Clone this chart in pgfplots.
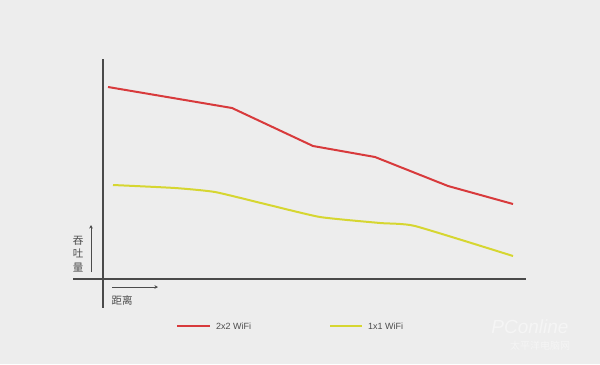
\documentclass[border=0pt]{standalone}
\usepackage{pgfplots}
\pgfplotsset{compat=1.18}
\usepackage{fontspec}
\setmainfont{Liberation Sans}
\newfontfamily\cjk{Noto Sans CJK SC}
\usetikzlibrary{arrows.meta}
\definecolor{bg}{HTML}{EDEDED}
\definecolor{redline}{HTML}{D83A3C}
\definecolor{yelline}{HTML}{D6D631}
\definecolor{axisc}{HTML}{4A4A4A}
\definecolor{txt}{HTML}{4C4C4C}
\begin{document}
\begin{tikzpicture}
\begin{axis}[
  scale only axis, width=600bp, height=364bp,
  xmin=0, xmax=600, ymin=0, ymax=364, y dir=reverse,
  hide axis, clip=false,
]
\fill[bg] (axis cs:0,0) rectangle (axis cs:600,364);
% axes
\draw[axisc, line width=1.4bp] (axis cs:103,59) -- (axis cs:103,308);
\draw[axisc, line width=1.4bp] (axis cs:73,279) -- (axis cs:526,279);
% axis arrows
\draw[txt, line width=0.9bp, -{Stealth[length=3.5bp,width=3.5bp]}] (axis cs:91,272) -- (axis cs:91,225);
\draw[txt, line width=0.9bp, -{Stealth[length=3.5bp,width=3.5bp]}] (axis cs:112,287) -- (axis cs:158,287);
\node[txt, font=\cjk\fontsize{10.5bp}{12bp}\selectfont, align=center, inner sep=0pt] at (axis cs:78,254) {吞\\[1.5bp]吐\\[1.5bp]量};
\node[txt, font=\cjk\fontsize{10.5bp}{12bp}\selectfont, inner sep=0pt] at (axis cs:122,300) {距离};
% data
\addplot[redline, line width=2bp, line join=round] coordinates {
 (108,87) (232,108) (313,146) (375,157) (448,186) (513,204)};
\addplot[yelline, line width=2bp, line join=round, smooth, tension=0.3] coordinates {
 (113,185) (175,188) (215,192) (265,204) (320,217) (380,223) (415,226) (513,256)};
% legend
\addplot[redline, line width=2.2bp] coordinates {(177,326) (210,326)};
\node[txt, font=\fontsize{9bp}{11bp}\selectfont, anchor=west, inner sep=0pt] at (axis cs:216,326) {2x2 WiFi};
\addplot[yelline, line width=2.2bp] coordinates {(330,326) (362,326)};
\node[txt, font=\fontsize{9bp}{11bp}\selectfont, anchor=west, inner sep=0pt] at (axis cs:368,326) {1x1 WiFi};
% watermark
\node[white!45!bg, font=\fontsize{19bp}{20bp}\selectfont\itshape, inner sep=0pt] at (axis cs:530,327) {PConline};
\node[white!45!bg, font=\cjk\fontsize{10bp}{12bp}\selectfont, inner sep=0pt] at (axis cs:540,346) {太平洋电脑网};
\end{axis}
\end{tikzpicture}
\end{document}
